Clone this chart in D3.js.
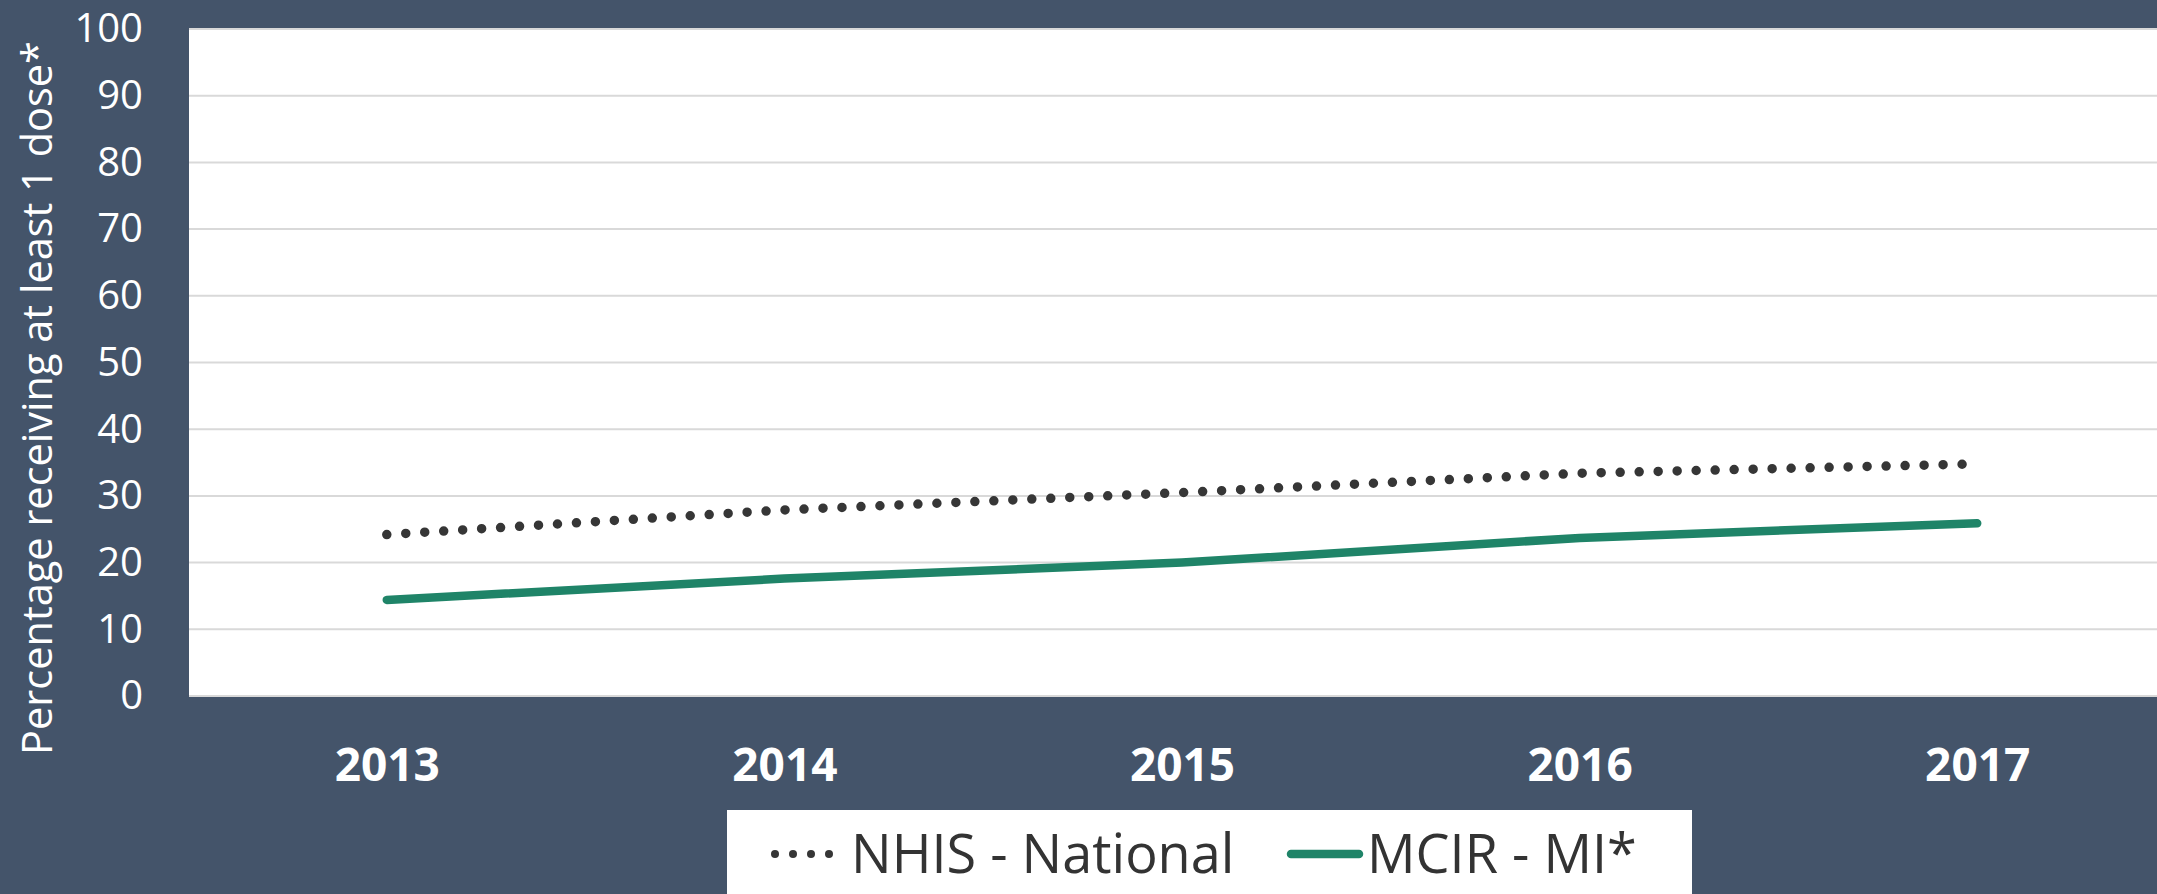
<!DOCTYPE html>
<html>
<head>
<meta charset="utf-8">
<script src="https://cdn.jsdelivr.net/npm/d3@7"></script>
<style>
  html, body { margin: 0; padding: 0; background: #44546a; overflow: hidden; }
</style>
</head>
<body>
<div id="chart"></div>
<script>
// data
var years = ["2013", "2014", "2015", "2016", "2017"];
var nhisNational = [24.2, 27.9, 30.5, 33.4, 34.8];
var mcirMI = [14.4, 17.6, 20.0, 23.7, 25.9];
var yTicks = [0, 10, 20, 30, 40, 50, 60, 70, 80, 90, 100];
var seriesNames = ["NHIS - National", "MCIR - MI*"];

var W = 2157, H = 894;
var margin = { top: 29, right: 0, bottom: 198, left: 189 };
var width = W - margin.left - margin.right;
var height = H - margin.top - margin.bottom;

var svg = d3.select("#chart").append("svg")
    .attr("width", W)
    .attr("height", H)
    .style("display", "block");

svg.append("rect")
    .attr("width", W).attr("height", H)
    .attr("fill", "#44546a");

var g = svg.append("g")
    .attr("transform", "translate(" + margin.left + "," + margin.top + ")");

// plot area
g.append("rect")
    .attr("width", width)
    .attr("height", height)
    .attr("fill", "#ffffff");

// the category axis runs a little past the right edge of the page
var xscale = d3.scalePoint()
    .domain(years)
    .range([-1, width + 19])
    .padding(0.5);

var yscale = d3.scaleLinear()
    .domain([0, 100])
    .range([height, 0]);

// gridlines
g.selectAll(".grid")
    .data(yTicks)
    .enter().append("line")
    .attr("class", "grid")
    .attr("x1", 0)
    .attr("x2", width)
    .attr("y1", function(d) { return yscale(d); })
    .attr("y2", function(d) { return yscale(d); })
    .attr("stroke", "#d9d9d9")
    .attr("stroke-width", 2);

// y axis labels
var yaxis = d3.axisLeft(yscale)
    .tickValues(yTicks)
    .tickSize(0)
    .tickPadding(46);

var yg = g.append("g").attr("class", "y_axis").call(yaxis);
yg.select(".domain").remove();
yg.selectAll("text")
    .attr("font-family", "'Open Sans', sans-serif")
    .attr("font-size", "40px")
    .attr("fill", "#ffffff");

// x axis labels
var xaxis = d3.axisBottom(xscale).tickSize(0).tickPadding(0);
var xg = g.append("g")
    .attr("class", "x_axis")
    .attr("transform", "translate(0," + height + ")")
    .call(xaxis);
xg.select(".domain").remove();
xg.selectAll("text")
    .attr("dy", null)
    .attr("y", 85)
    .attr("font-family", "'Open Sans', sans-serif")
    .attr("font-weight", "bold")
    .attr("font-size", "46px")
    .attr("fill", "#ffffff");

// y axis title
svg.append("text")
    .attr("transform", "translate(52,398) rotate(-90)")
    .attr("text-anchor", "middle")
    .attr("font-family", "'Open Sans', sans-serif")
    .attr("font-size", "41.5px")
    .attr("fill", "#ffffff")
    .text("Percentage receiving at least 1 dose*");

// lines
var line = d3.line()
    .x(function(d, i) { return xscale(years[i]); })
    .y(function(d) { return yscale(d); });

g.append("path")
    .datum(nhisNational)
    .attr("d", line)
    .attr("fill", "none")
    .attr("stroke", "#363636")
    .attr("stroke-width", 9.5)
    .attr("stroke-linecap", "round")
    .attr("stroke-dasharray", "0 19");

g.append("path")
    .datum(mcirMI)
    .attr("d", line)
    .attr("fill", "none")
    .attr("stroke", "#1f8468")
    .attr("stroke-width", 8.5)
    .attr("stroke-linecap", "round")
    .attr("stroke-linejoin", "round");

// legend
var legend = svg.append("g").attr("transform", "translate(727,810)");
legend.append("rect")
    .attr("width", 965)
    .attr("height", 100)
    .attr("fill", "#ffffff");

var ly = 44;
legend.selectAll(".ldot")
    .data(d3.range(4))
    .enter().append("circle")
    .attr("class", "ldot")
    .attr("cx", function(d) { return 48 + d * 18; })
    .attr("cy", ly)
    .attr("r", 4)
    .attr("fill", "#363636");
legend.append("text")
    .attr("x", 124).attr("y", 63)
    .attr("font-family", "'Open Sans', sans-serif")
    .attr("font-size", "54px")
    .attr("fill", "#333333")
    .text(seriesNames[0]);

legend.append("line")
    .attr("x1", 564).attr("x2", 632)
    .attr("y1", ly).attr("y2", ly)
    .attr("stroke", "#1f8468")
    .attr("stroke-width", 8.5)
    .attr("stroke-linecap", "round");
legend.append("text")
    .attr("x", 640).attr("y", 63)
    .attr("font-family", "'Open Sans', sans-serif")
    .attr("font-size", "54px")
    .attr("fill", "#333333")
    .text(seriesNames[1]);
</script>
</body>
</html>
